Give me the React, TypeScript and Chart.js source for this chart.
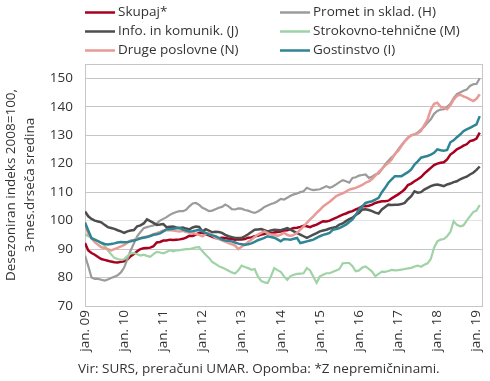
import React, { useEffect, useRef } from "react";
import { Chart, registerables } from "chart.js";

Chart.register(...registerables);

const xTickLabels = ["jan. 09", "jan. 10", "jan. 11", "jan. 12", "jan. 13", "jan. 14", "jan. 15", "jan. 16", "jan. 17", "jan. 18", "jan. 19"];
const yTickValues = [70, 80, 90, 100, 110, 120, 130, 140, 150];

const seriesNames = ["Skupaj*", "Promet in sklad. (H)", "Info. in komunik. (J)", "Strokovno-tehnične (M)", "Druge poslovne (N)", "Gostinstvo (I)"];
const seriesColors = ["#a8001e", "#9b9b9b", "#4d4d4d", "#9fd3a6", "#e89a96", "#2e8593"];

const skupaj = [
  92.1, 89.5, 88.6, 88.0, 87.2, 86.5, 86.2, 85.9, 85.6, 85.4, 85.3, 85.5,
  85.7, 86.3, 87.5, 88.3, 89.2, 90.0, 90.3, 90.4, 90.5, 91.0, 92.3, 92.5,
  93.0, 93.0, 93.3, 93.2, 93.3, 93.4, 93.6, 94.0, 94.7, 94.6, 95.1, 95.7,
  95.7, 95.2, 94.8, 94.3, 93.9, 93.8, 94.0, 93.9, 93.6, 93.5, 93.3, 93.4,
  93.4, 93.5, 94.0, 94.1, 94.5, 94.7, 95.1, 95.3, 95.7, 95.5, 95.8, 96.0,
  96.2, 96.5, 96.6, 97.0, 97.4, 97.5, 97.8, 98.2, 98.0, 97.7, 98.2, 98.6,
  99.2, 99.8, 99.7, 100.0, 100.5, 101.0, 101.6, 102.1, 102.5, 103.0, 103.3, 103.9,
  104.4, 105.0, 105.0, 105.2, 105.6, 106.2, 106.5, 106.8, 106.8, 107.0, 107.8, 108.5,
  109.2, 110.0, 111.0, 112.5, 113.0, 113.8, 114.5, 115.3, 116.5, 117.5, 118.5, 119.5,
  120.0, 120.3, 120.5, 121.5, 123.2, 124.0, 125.0, 125.6, 126.3, 126.8, 127.9, 128.2,
  128.8, 130.9,
];

const promet = [
  87.7, 84.0, 80.0, 79.5, 79.5, 79.2, 78.9, 79.3, 79.8, 80.3, 80.8, 81.8,
  83.5, 86.5, 89.5, 92.0, 94.5, 96.0, 97.3, 97.7, 98.0, 98.3, 99.0, 100.0,
  100.6, 101.2, 102.0, 102.6, 103.0, 103.3, 103.3, 103.8, 105.0, 106.0, 106.2, 105.5,
  104.5, 104.0, 103.3, 103.5, 104.0, 104.5, 104.8, 105.6, 105.0, 104.0, 103.9, 104.3,
  104.2, 103.7, 103.5, 103.0, 102.7, 103.2, 103.9, 104.8, 105.3, 105.8, 106.2, 106.8,
  107.6, 107.4, 108.0, 108.7, 109.2, 109.5, 110.0, 110.3, 111.5, 111.0, 110.7, 110.9,
  111.0, 111.5, 112.1, 111.5, 112.0, 112.7, 113.5, 114.2, 113.8, 113.3, 115.0, 115.2,
  115.8, 116.0, 116.2, 115.0, 115.4, 116.2, 116.5, 118.0, 119.7, 121.0, 122.2, 123.2,
  125.0, 126.5, 127.9, 129.2, 130.0, 130.3, 131.0, 132.0, 133.0, 134.4, 135.6, 137.5,
  138.5, 139.0, 139.1, 140.0, 141.0, 143.0, 144.4, 145.0, 145.6, 146.0, 147.3, 147.9,
  148.0, 150.0,
];

const info = [
  103.2, 101.5, 100.6, 100.0, 99.7, 99.4, 98.5, 97.7, 97.4, 97.1, 96.6, 96.2,
  95.7, 96.2, 96.5, 96.7, 98.0, 98.3, 99.0, 100.4, 99.8, 99.2, 98.5, 98.6,
  98.8, 97.7, 97.8, 97.9, 97.6, 97.4, 97.6, 97.2, 96.9, 97.6, 97.9, 97.8,
  96.2, 97.0, 96.5, 95.9, 96.1, 96.0, 95.7, 95.0, 94.5, 94.2, 93.9, 93.9,
  93.9, 94.5, 95.2, 96.0, 96.8, 96.9, 97.0, 96.6, 96.2, 96.5, 96.8, 96.7,
  96.6, 97.0, 97.4, 96.8, 96.2, 95.6, 95.1, 94.5, 93.9, 94.5, 95.1, 95.6,
  96.2, 96.5, 96.8, 97.2, 97.5, 97.8, 98.6, 99.0, 99.8, 100.5, 101.0, 102.0,
  102.7, 103.9, 104.0, 103.7, 103.3, 102.8, 102.5, 103.9, 104.8, 105.6, 105.5, 105.6,
  105.6, 105.8, 106.2, 107.5, 108.6, 110.3, 109.8, 110.0, 110.9, 111.5, 112.1, 112.5,
  112.7, 112.4, 112.1, 112.7, 113.0, 113.5, 113.8, 114.5, 115.0, 115.4, 116.2, 116.8,
  117.8, 119.0,
];

const strokovno = [
  95.2, 94.5, 94.0, 93.5, 92.8, 92.0, 91.2, 89.5, 88.2, 86.9, 86.5, 86.2,
  86.4, 87.5, 88.5, 88.6, 88.2, 87.7, 88.0, 87.6, 87.3, 88.2, 89.0, 88.8,
  88.5, 89.0, 89.6, 89.2, 89.5, 89.6, 89.8, 90.0, 90.0, 90.3, 90.6, 90.7,
  89.2, 88.0, 86.9, 85.5, 84.8, 84.0, 83.5, 83.0, 82.4, 81.8, 81.4, 82.5,
  84.2, 83.7, 83.3, 82.7, 83.0, 80.4, 78.8, 78.3, 78.1, 80.4, 83.3, 82.6,
  82.0, 80.4, 79.2, 80.5, 81.0, 81.3, 81.4, 81.5, 83.3, 82.5, 80.3, 78.1,
  80.4, 81.0, 81.5, 81.5, 82.0, 82.5, 83.0, 85.0, 85.1, 85.1, 84.0, 82.2,
  82.5, 83.5, 83.9, 83.0, 82.1, 80.5, 81.3, 82.1, 82.0, 82.3, 82.7, 82.5,
  82.6, 82.8, 83.0, 83.2, 83.4, 83.9, 84.2, 83.8, 84.5, 85.0, 86.5, 90.5,
  92.7, 93.3, 93.5, 94.5, 96.0, 99.8, 98.5, 98.0, 98.3, 100.0, 101.5, 103.0,
  103.5, 105.5,
];

const druge = [
  98.8, 95.3, 93.8, 92.4, 91.5, 90.6, 90.4, 90.0, 89.5, 90.0, 90.4, 90.9,
  91.5, 92.2, 93.0, 93.2, 93.6, 93.8, 94.2, 94.4, 94.7, 95.2, 95.6, 96.0,
  96.5, 96.6, 96.7, 96.5, 96.3, 96.2, 96.4, 96.0, 95.8, 95.7, 95.3, 95.0,
  94.5, 95.2, 95.7, 94.8, 93.9, 93.5, 93.1, 92.6, 92.1, 91.7, 91.2, 90.0,
  90.8, 91.5, 92.5, 93.3, 94.2, 95.1, 95.7, 96.2, 95.6, 95.1, 95.0, 94.6,
  95.1, 95.7, 95.0, 94.6, 95.0, 95.7, 96.8, 98.0, 99.2, 100.4, 101.5, 102.7,
  103.8, 105.0, 105.8, 106.6, 107.6, 108.6, 109.1, 109.6, 110.2, 110.9, 111.2, 111.5,
  112.0, 112.5, 113.3, 113.8, 114.6, 115.8, 117.0, 118.2, 119.3, 120.3, 121.5, 123.5,
  124.5, 126.2, 127.8, 129.0, 129.9, 130.3, 130.6, 131.5, 133.5, 135.5, 139.0, 141.0,
  141.4, 140.0, 139.7, 139.1, 140.5, 142.5, 143.8, 144.2, 143.6, 143.2, 142.6, 142.0,
  142.8, 144.4,
];

const gostinstvo = [
  99.3, 96.5, 93.8, 93.2, 92.8, 92.2, 91.8, 91.6, 91.8, 92.0, 92.3, 92.5,
  92.4, 92.5, 92.7, 93.0, 93.3, 93.8, 94.0, 94.2, 94.6, 95.0, 95.2, 95.5,
  96.2, 97.0, 97.0, 97.1, 97.3, 97.4, 96.8, 96.5, 96.2, 96.3, 96.5, 96.8,
  96.2, 95.7, 95.1, 94.8, 94.5, 93.9, 93.3, 93.0, 92.9, 92.7, 92.3, 91.9,
  91.7, 91.5, 91.7, 92.0, 92.5, 93.1, 93.5, 93.9, 94.5, 94.2, 94.0, 93.4,
  92.7, 93.5, 93.4, 93.3, 93.6, 93.9, 92.1, 92.4, 92.7, 93.0, 93.3, 93.9,
  94.5, 95.0, 95.3, 95.7, 96.8, 97.0, 97.4, 98.0, 98.6, 99.5, 100.4, 102.0,
  103.9, 105.0, 106.2, 106.5, 106.8, 107.4, 108.0, 110.0, 111.5, 113.3, 114.5, 115.6,
  115.6, 115.6, 116.3, 117.0, 118.0, 119.7, 120.8, 122.1, 122.4, 122.7, 123.2, 123.8,
  125.0, 124.7, 124.5, 124.8, 127.5, 128.2, 129.3, 130.2, 131.4, 132.0, 132.6, 133.2,
  133.8, 136.7,
];

const seriesValues = [skupaj, promet, info, strokovno, druge, gostinstvo];

const FONT = "'Open Sans', 'DejaVu Sans', sans-serif";
const FONT_SIZE = 13.5;
const TEXT_COLOR = "#333333";
const sourceText = "Vir: SURS, preračuni UMAR. Opomba: *Z nepremičninami.";
const yTitle = ["Desezoniran indeks 2008=100,", "3-mes.drseča sredina"];

const boxPlugin = {
  id: "plotBox",
  beforeDatasetsDraw(chart: any) {
    const { ctx, chartArea } = chart;
    ctx.save();
    ctx.strokeStyle = "#c6c6c6";
    ctx.lineWidth = 1;
    ctx.strokeRect(
      Math.round(chartArea.left) + 0.5,
      Math.round(chartArea.top) + 0.5,
      Math.round(chartArea.right - chartArea.left) - 1,
      Math.round(chartArea.bottom - chartArea.top)
    );
    ctx.restore();
  },
};

const legendPlugin = {
  id: "gridLegend",
  afterDraw(chart: any) {
    const { ctx } = chart;
    const rowsY = [12, 31, 50];
    const colX = [85, 280];
    ctx.save();
    ctx.font = `${FONT_SIZE}px ${FONT}`;
    ctx.textBaseline = "middle";
    ctx.textAlign = "left";
    chart.data.datasets.forEach((ds: any, i: number) => {
      const col = i % 2;
      const row = Math.floor(i / 2);
      const x = colX[col];
      const y = rowsY[row];
      ctx.strokeStyle = ds.borderColor;
      ctx.lineWidth = 2.5;
      ctx.beginPath();
      ctx.moveTo(x, y + 0.5);
      ctx.lineTo(x + 30, y + 0.5);
      ctx.stroke();
      ctx.fillStyle = TEXT_COLOR;
      ctx.fillText(ds.label, x + 33, y);
    });
    ctx.restore();
  },
};

const sourcePlugin = {
  id: "sourceNote",
  afterDraw(chart: any) {
    const { ctx } = chart;
    ctx.save();
    ctx.font = `${FONT_SIZE}px ${FONT}`;
    ctx.textBaseline = "middle";
    ctx.textAlign = "left";
    ctx.fillStyle = TEXT_COLOR;
    ctx.fillText(sourceText, 78, 369);
    ctx.restore();
  },
};

export default function App() {
  const canvasRef = useRef<HTMLCanvasElement | null>(null);

  useEffect(() => {
    const canvas = canvasRef.current;
    if (!canvas) return;
    const datasets = seriesValues.map((vals, si) => ({
      label: seriesNames[si],
      data: vals.map((v, i) => ({ x: i, y: v })),
      borderColor: seriesColors[si],
      backgroundColor: seriesColors[si],
      borderWidth: si === 3 || si === 1 ? 2.2 : 2.5,
      pointRadius: 0,
      tension: 0,
      order: seriesValues.length - si,
    }));

    const chart = new Chart(canvas, {
      type: "line",
      data: { datasets },
      options: {
        animation: false,
        responsive: false,
        devicePixelRatio: 1,
        layout: { padding: { top: 64, right: 7, bottom: 25, left: 0 } },
        plugins: {
          legend: { display: false },
          tooltip: { enabled: false },
        },
        scales: {
          x: {
            type: "linear",
            min: 0,
            max: 122,
            grid: { display: false, drawTicks: false },
            border: { display: false },
            afterBuildTicks: (axis: any) => {
              axis.ticks = xTickLabels.map((_, k) => ({ value: k * 12 }));
            },
            afterFit: (scale: any) => {
              scale.height = 50;
              scale.paddingLeft = 0;
              scale.paddingRight = 0;
            },
            ticks: {
              autoSkip: false,
              maxRotation: 90,
              minRotation: 90,
              padding: 4,
              color: TEXT_COLOR,
              font: { family: FONT, size: FONT_SIZE },
              callback: (value: any) => {
                const k = Math.round(Number(value) / 12);
                return xTickLabels[k] ?? "";
              },
            },
          },
          y: {
            type: "linear",
            min: 70,
            max: 155,
            grid: {
              drawTicks: false,
              color: (ctx: any) => (ctx.tick && ctx.tick.value === 100 ? "#e4e4e4" : "#c6c6c6"),
              lineWidth: 1,
            },
            border: { display: false },
            afterBuildTicks: (axis: any) => {
              axis.ticks = yTickValues.map((v) => ({ value: v }));
            },
            afterFit: (scale: any) => {
              scale.width = 85;
              scale.paddingTop = 0;
              scale.paddingBottom = 0;
            },
            ticks: {
              padding: 12,
              color: TEXT_COLOR,
              font: { family: FONT, size: FONT_SIZE },
            },
            title: {
              display: true,
              text: yTitle,
              color: TEXT_COLOR,
              font: { family: FONT, size: FONT_SIZE, lineHeight: 1.4 },
              padding: { top: 2, bottom: 0 },
            },
          },
        },
      },
      plugins: [boxPlugin, legendPlugin, sourcePlugin],
    });

    return () => {
      chart.destroy();
    };
  }, []);

  return (
    <div style={{ position: "fixed", left: 0, top: 0, width: 490, height: 381, background: "#ffffff" }}>
      <canvas ref={canvasRef} width={490} height={381} style={{ display: "block", width: 490, height: 381 }} />
    </div>
  );
}
